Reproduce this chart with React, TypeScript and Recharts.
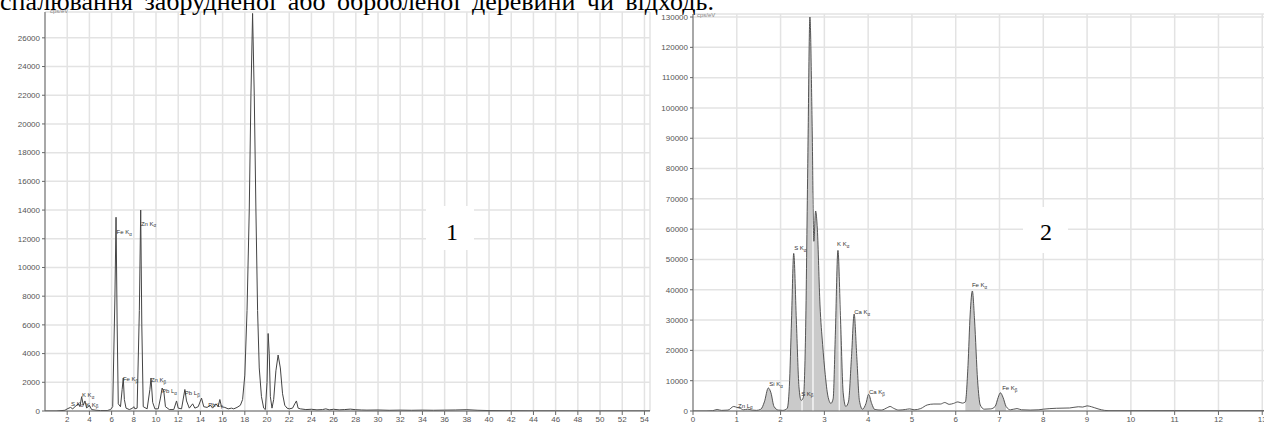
import React from 'react';
import { ComposedChart, Line, Area, XAxis, YAxis, CartesianGrid, ReferenceDot, ReferenceLine } from 'recharts';

// ---------- Spectrum 1 ----------
const energy1 = [0, 1.0, 1.8, 2.0, 2.3, 2.5, 2.7, 3.0, 3.15, 3.3, 3.45, 3.6, 3.75, 4.0, 4.2, 4.6, 5.0, 5.6, 5.9, 6.1, 6.3, 6.4, 6.5, 6.6, 6.8, 6.95, 7.05, 7.15, 7.3, 7.6, 7.9, 8.0, 8.1, 8.3, 8.5, 8.62, 8.72, 8.85, 9.2, 9.45, 9.55, 9.7, 9.9, 10.2, 10.4, 10.55, 10.7, 10.85, 11.2, 11.6, 11.85, 12.0, 12.3, 12.6, 12.75, 13.0, 13.3, 13.5, 13.8, 14.1, 14.3, 14.6, 14.9, 15.1, 15.4, 15.6, 15.75, 15.9, 16.2, 16.5, 16.8, 17.0, 17.3, 17.6, 17.8, 18.0, 18.2, 18.4, 18.55, 18.7, 18.85, 19.0, 19.15, 19.3, 19.5, 19.7, 19.85, 20.0, 20.1, 20.2, 20.3, 20.45, 20.6, 20.8, 21.0, 21.2, 21.4, 21.6, 21.8, 22.0, 22.3, 22.5, 22.65, 22.8, 23.0, 23.5, 24.0, 24.5, 25.0, 25.3, 25.6, 26.0, 26.5, 27.0, 27.5, 28.0, 28.5, 29.0, 30.0, 31.0, 32.0, 33.0, 34.0, 35.0, 36.0, 37.0, 38.0, 39.0, 40.0, 42.0, 44.0, 46.0, 50.0, 54.5];
const counts1 = [0, 0, 50, 150, 250, 150, 300, 500, 300, 1000, 400, 700, 200, 400, 100, 50, 30, 30, 100, 300, 8000, 13500, 6000, 500, 300, 1500, 2300, 800, 200, 100, 200, 300, 150, 200, 7000, 14000, 6000, 300, 150, 1500, 2300, 600, 150, 150, 900, 1600, 1400, 300, 100, 100, 700, 200, 150, 1500, 700, 200, 500, 200, 300, 900, 300, 250, 400, 200, 500, 300, 800, 300, 250, 150, 200, 150, 250, 400, 800, 2500, 7000, 14000, 22000, 27700, 22000, 14000, 7000, 3000, 1000, 200, 100, 2000, 5400, 4000, 1000, 200, 800, 2800, 3900, 3000, 1200, 400, 200, 150, 200, 500, 700, 200, 150, 100, 120, 80, 100, 150, 80, 120, 80, 100, 130, 90, 70, 60, 70, 50, 60, 50, 60, 50, 60, 70, 90, 50, 30, 20, 10, 10, 5, 5];
const xTicks1 = [2, 4, 6, 8, 10, 12, 14, 16, 18, 20, 22, 24, 26, 28, 30, 32, 34, 36, 38, 40, 42, 44, 46, 48, 50, 52, 54];
const yTicks1 = [0, 2000, 4000, 6000, 8000, 10000, 12000, 14000, 16000, 18000, 20000, 22000, 24000, 26000];
const labels1 = [
  { e: 2.34, c: 350, el: 'S K', sub: 'α' },
  { e: 3.33, c: 975, el: 'K K', sub: 'α' },
  { e: 3.7, c: 280, el: 'K K', sub: 'β' },
  { e: 6.45, c: 12300, el: 'Fe K', sub: 'α' },
  { e: 7.02, c: 2090, el: 'Fe K', sub: 'β' },
  { e: 8.64, c: 12900, el: 'Zn K', sub: 'α' },
  { e: 9.54, c: 2020, el: 'Zn K', sub: 'β' },
  { e: 10.53, c: 1250, el: 'Pb L', sub: 'α' },
  { e: 12.6, c: 1110, el: 'Pb L', sub: 'β' },
  { e: 14.7, c: 280, el: 'Pb L', sub: 'γ' },
];

// ---------- Spectrum 2 ----------
const energy2 = [0, 0.3, 0.45, 0.55, 0.65, 0.8, 0.93, 1.0, 1.08, 1.15, 1.25, 1.35, 1.45, 1.55, 1.63, 1.72, 1.78, 1.85, 1.95, 2.05, 2.15, 2.2, 2.25, 2.3, 2.36, 2.42, 2.47, 2.52, 2.57, 2.62, 2.67, 2.72, 2.76, 2.8, 2.84, 2.9, 2.96, 3.02, 3.08, 3.15, 3.2, 3.25, 3.31, 3.37, 3.43, 3.49, 3.55, 3.62, 3.68, 3.74, 3.8, 3.87, 3.95, 4.01, 4.08, 4.15, 4.3, 4.45, 4.5, 4.58, 4.7, 4.85, 4.95, 5.05, 5.2, 5.35, 5.5, 5.65, 5.75, 5.85, 5.95, 6.05, 6.15, 6.22, 6.28, 6.33, 6.38, 6.43, 6.5, 6.56, 6.65, 6.8, 6.9, 6.97, 7.02, 7.08, 7.15, 7.25, 7.4, 7.5, 7.7, 7.9, 8.0, 8.3, 8.6, 8.8, 8.9, 9.0, 9.1, 9.25, 9.4, 9.5, 10.0, 11.0, 12.0, 13.2];
const counts2 = [0, 0, 100, 500, 200, 300, 1500, 1200, 900, 400, 600, 300, 200, 600, 3000, 7600, 6000, 1500, 300, 200, 800, 8000, 30000, 52000, 30000, 8000, 3500, 4500, 25000, 80000, 130000, 95000, 56000, 66000, 60000, 35000, 22000, 12000, 5000, 2500, 4000, 25000, 53000, 30000, 6000, 1500, 3000, 18000, 32000, 18000, 3500, 600, 2500, 5500, 2500, 500, 300, 1200, 1500, 900, 300, 500, 700, 400, 800, 2000, 2300, 2300, 2800, 2200, 2500, 3000, 2600, 3000, 15000, 32000, 39600, 30000, 10000, 2000, 600, 700, 1500, 4500, 6000, 4500, 1500, 400, 800, 400, 300, 400, 600, 900, 1000, 1400, 1300, 1700, 1400, 700, 200, 100, 100, 120, 100, 100];
const fillRegions2 = [[1.55, 1.95], [2.15, 4.15], [6.22, 6.56], [6.9, 7.15]];
const splitLines2 = [{ e: 2.49, c: 3800 }, { e: 2.74, c: 72000 }, { e: 3.34, c: 44000 }];
const xTicks2 = [0, 1, 2, 3, 4, 5, 6, 7, 8, 9, 10, 11, 12, 13];
const yTicks2 = [0, 10000, 20000, 30000, 40000, 50000, 60000, 70000, 80000, 90000, 100000, 110000, 120000, 130000];
const labels2 = [
  { e: 1.03, c: 1000, el: 'Zn L', sub: 'α' },
  { e: 1.74, c: 8240, el: 'Si K', sub: 'α' },
  { e: 2.31, c: 53080, el: 'S K', sub: 'α' },
  { e: 2.47, c: 4950, el: 'S K', sub: 'β' },
  { e: 3.29, c: 54400, el: 'K K', sub: 'α' },
  { e: 3.68, c: 32000, el: 'Ca K', sub: 'α' },
  { e: 4.02, c: 5600, el: 'Ca K', sub: 'β' },
  { e: 6.37, c: 40900, el: 'Fe K', sub: 'α' },
  { e: 7.06, c: 6900, el: 'Fe K', sub: 'β' },
];

const titleText = 'спалювання забрудненої або обробленої деревини  чи відходь.';

const data1 = energy1.map((e, i) => ({ e, c: counts1[i] }));
const data2 = energy2.map((e, i) => ({
  e,
  c: counts2[i],
  f: fillRegions2.some(([a, b]) => e >= a && e <= b) ? counts2[i] : null,
}));

const tickStyle = { fontSize: 8, fill: '#555', fontFamily: 'Arial, Liberation Sans, sans-serif' };

const PeakLabel = (props: any) => {
  const { cx, cy, el, sub } = props;
  if (cx == null || cy == null) return null;
  return (
    <text x={cx} y={cy} fontSize={6} fill="#333" fontFamily="Arial, Liberation Sans, sans-serif">
      {el}
      <tspan fontSize={4.5} dy={1.5}>{sub}</tspan>
    </text>
  );
};

export default function App() {
  return (
    <div style={{ position: 'absolute', left: 0, top: 0, width: 1264, height: 424, overflow: 'hidden', background: '#fff' }}>
      <div style={{ position: 'absolute', left: 0, top: 0 }}>
        <ComposedChart width={660} height={424} data={data1} margin={{ top: 12, right: 10, left: 0, bottom: 0 }}>
          <CartesianGrid stroke="#e3e3e3" strokeWidth={1.5} />
          <XAxis type="number" dataKey="e" domain={[0, 54.5]} ticks={xTicks1} allowDataOverflow height={13}
            tick={tickStyle} tickSize={4} tickMargin={1} axisLine={{ stroke: '#666' }} tickLine={{ stroke: '#666' }} />
          <YAxis type="number" domain={[0, 27800]} ticks={yTicks1} allowDataOverflow width={45}
            tick={tickStyle} tickSize={3} tickMargin={2} axisLine={{ stroke: '#666' }} tickLine={{ stroke: '#666' }} />
          <Line type="linear" dataKey="c" stroke="#444" strokeWidth={1} dot={false} isAnimationActive={false} />
          {labels1.map((l, i) => (
            <ReferenceDot key={i} x={l.e} y={l.c} r={0} ifOverflow="visible"
              shape={(p: any) => <PeakLabel {...p} el={l.el} sub={l.sub} />} />
          ))}
        </ComposedChart>
      </div>
      <div style={{ position: 'absolute', left: 650, top: 0 }}>
        <ComposedChart width={630} height={424} data={data2} margin={{ top: 14, right: 9, left: 0, bottom: 0 }}>
          <CartesianGrid stroke="#e3e3e3" strokeWidth={1.5} />
          <XAxis type="number" dataKey="e" domain={[0, 13.2]} ticks={xTicks2} allowDataOverflow height={13}
            tick={tickStyle} tickSize={4} tickMargin={1} axisLine={{ stroke: '#666' }} tickLine={{ stroke: '#666' }} />
          <YAxis type="number" domain={[0, 131000]} ticks={yTicks2} allowDataOverflow width={43}
            tick={tickStyle} tickSize={3} tickMargin={2} axisLine={{ stroke: '#666' }} tickLine={{ stroke: '#666' }} />
          <Area type="monotone" dataKey="f" stroke="none" fill="#cacaca" fillOpacity={1} connectNulls={false} isAnimationActive={false} />
          {splitLines2.map((s, i) => (
            <ReferenceLine key={i} segment={[{ x: s.e, y: 0 }, { x: s.e, y: s.c }]} stroke="#fff" strokeWidth={1.2} />
          ))}
          <Line type="monotone" dataKey="c" stroke="#444" strokeWidth={0.9} dot={false} isAnimationActive={false} />
          {labels2.map((l, i) => (
            <ReferenceDot key={i} x={l.e} y={l.c} r={0} ifOverflow="visible"
              shape={(p: any) => <PeakLabel {...p} el={l.el} sub={l.sub} />} />
          ))}
        </ComposedChart>
      </div>
      <svg width={1264} height={424} style={{ position: 'absolute', left: 0, top: 0, pointerEvents: 'none' }}>
        <text x={0} y={10} fontSize={26} wordSpacing={5} fontFamily="Liberation Serif, Times New Roman, serif" fill="#000">{titleText}</text>
        <text x={50} y={13} fontSize={6} fill="#888" fontFamily="Arial, sans-serif">cps/eV</text>
        <text x={697} y={17} fontSize={6} fill="#888" fontFamily="Arial, sans-serif">cps/eV</text>
        <rect x={426} y={206} width={48} height={44} fill="#fff" />
        <text x={452} y={240} fontSize={24} textAnchor="middle" fontFamily="Liberation Serif, Times New Roman, serif" fill="#000">1</text>
        <rect x={1023} y={207} width={45} height={46} fill="#fff" />
        <text x={1046} y={240} fontSize={24} textAnchor="middle" fontFamily="Liberation Serif, Times New Roman, serif" fill="#000">2</text>
      </svg>
    </div>
  );
}
